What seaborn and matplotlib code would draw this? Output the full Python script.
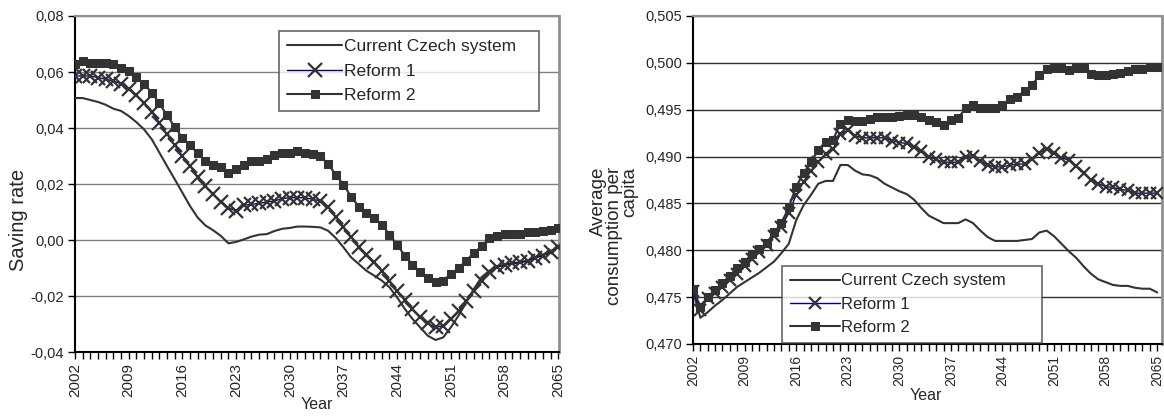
import numpy as np
import pandas as pd
import matplotlib
matplotlib.use("Agg")
import matplotlib.pyplot as plt
import seaborn as sns
from matplotlib.ticker import FixedLocator, MultipleLocator, FuncFormatter

years = list(range(2002, 2066))

# Left panel: saving rate
save_current = [0.0507, 0.0507, 0.0500, 0.0493, 0.0483, 0.0469, 0.0461, 0.0443, 0.0421, 0.0395,
                0.0360, 0.0312, 0.0264, 0.0217, 0.0169, 0.0121, 0.0080, 0.0052, 0.0035, 0.0015,
                -0.0012, -0.0007, 0.0002, 0.0012, 0.0019, 0.0021, 0.0032, 0.0040, 0.0043, 0.0048,
                0.0048, 0.0047, 0.0045, 0.0033, 0.0007, -0.0026, -0.0062, -0.0086, -0.0110, -0.0127,
                -0.0145, -0.0169, -0.0205, -0.0246, -0.0282, -0.0312, -0.0342, -0.0357, -0.0348, -0.0312,
                -0.0270, -0.0223, -0.0175, -0.0133, -0.0110, -0.0095, -0.0088, -0.0083, -0.0080, -0.0074,
                -0.0062, -0.0052, -0.0040, -0.0026]
save_reform1 = [0.0586, 0.0586, 0.0586, 0.0580, 0.0574, 0.0568, 0.0558, 0.0538, 0.0517, 0.0490,
                0.0457, 0.0419, 0.0377, 0.0338, 0.0300, 0.0264, 0.0226, 0.0193, 0.0163, 0.0136,
                0.0115, 0.0104, 0.0124, 0.0127, 0.0131, 0.0136, 0.0139, 0.0148, 0.0151, 0.0151,
                0.0151, 0.0145, 0.0140, 0.0117, 0.0083, 0.0048, 0.0010, -0.0026, -0.0052, -0.0080,
                -0.0110, -0.0145, -0.0181, -0.0214, -0.0246, -0.0274, -0.0298, -0.0312, -0.0306, -0.0282,
                -0.0252, -0.0217, -0.0181, -0.0145, -0.0115, -0.0098, -0.0088, -0.0083, -0.0080, -0.0074,
                -0.0064, -0.0056, -0.0044, -0.0026]
save_reform2 = [0.0627, 0.0639, 0.0633, 0.0633, 0.0633, 0.0627, 0.0615, 0.0604, 0.0582, 0.0558,
                0.0526, 0.0488, 0.0445, 0.0404, 0.0365, 0.0338, 0.0310, 0.0282, 0.0268, 0.0261,
                0.0240, 0.0252, 0.0268, 0.0282, 0.0282, 0.0290, 0.0302, 0.0310, 0.0310, 0.0317,
                0.0312, 0.0308, 0.0300, 0.0271, 0.0233, 0.0198, 0.0155, 0.0119, 0.0096, 0.0079,
                0.0055, 0.0019, -0.0017, -0.0056, -0.0088, -0.0113, -0.0136, -0.0151, -0.0145, -0.0121,
                -0.0101, -0.0074, -0.0046, -0.0023, 0.0007, 0.0015, 0.0021, 0.0021, 0.0021, 0.0027,
                0.0030, 0.0033, 0.0036, 0.0042]

# Right panel: average consumption per capita
cons_current = [0.4756, 0.4728, 0.4734, 0.4741, 0.4747, 0.4754, 0.4761, 0.4766, 0.4771, 0.4776,
                0.4782, 0.4788, 0.4797, 0.4807, 0.4832, 0.4848, 0.4859, 0.4871, 0.4874, 0.4874,
                0.4891, 0.4891, 0.4885, 0.4881, 0.4880, 0.4877, 0.4871, 0.4867, 0.4863, 0.4860,
                0.4854, 0.4845, 0.4837, 0.4833, 0.4829, 0.4829, 0.4829, 0.4833, 0.4829, 0.4821,
                0.4814, 0.4810, 0.4810, 0.4810, 0.4810, 0.4811, 0.4812, 0.4819, 0.4821, 0.4815,
                0.4807, 0.4799, 0.4792, 0.4783, 0.4775, 0.4769, 0.4766, 0.4763, 0.4762, 0.4762,
                0.4760, 0.4759, 0.4759, 0.4755]
cons_reform1 = [0.4757, 0.4736, 0.4749, 0.4754, 0.4761, 0.4768, 0.4775, 0.4783, 0.4791, 0.4798,
                0.4806, 0.4815, 0.4825, 0.4840, 0.4859, 0.4873, 0.4885, 0.4894, 0.4903, 0.4908,
                0.4924, 0.4928, 0.4922, 0.4920, 0.4920, 0.4920, 0.4920, 0.4917, 0.4915, 0.4914,
                0.4910, 0.4906, 0.4900, 0.4897, 0.4894, 0.4894, 0.4894, 0.4900, 0.4901, 0.4895,
                0.4891, 0.4889, 0.4889, 0.4891, 0.4892, 0.4892, 0.4897, 0.4904, 0.4908, 0.4904,
                0.4899, 0.4896, 0.4890, 0.4882, 0.4875, 0.4871, 0.4868, 0.4867, 0.4865, 0.4864,
                0.4861, 0.4861, 0.4861, 0.4861]
cons_reform2 = [0.4759, 0.4740, 0.4750, 0.4758, 0.4765, 0.4773, 0.4781, 0.4788, 0.4796, 0.4801,
                0.4808, 0.4819, 0.4829, 0.4846, 0.4868, 0.4882, 0.4894, 0.4907, 0.4916, 0.4918,
                0.4935, 0.4939, 0.4938, 0.4938, 0.4940, 0.4942, 0.4942, 0.4942, 0.4943, 0.4944,
                0.4944, 0.4942, 0.4939, 0.4937, 0.4934, 0.4939, 0.4941, 0.4952, 0.4955, 0.4952,
                0.4952, 0.4952, 0.4955, 0.4961, 0.4964, 0.4970, 0.4976, 0.4987, 0.4993, 0.4995,
                0.4995, 0.4992, 0.4995, 0.4995, 0.4988, 0.4987, 0.4987, 0.4988, 0.4989, 0.4991,
                0.4993, 0.4993, 0.4996, 0.4996]

series_names = ["Current Czech system", "Reform 1", "Reform 2"]
year_ticks = [2002, 2009, 2016, 2023, 2030, 2037, 2044, 2051, 2058, 2065]

sns.set_style("white")
plt.rcParams["font.family"] = ["Liberation Sans", "DejaVu Sans"]
NARROW = ["Liberation Sans Narrow", "Liberation Sans", "DejaVu Sans"]
ARIAL = ["Liberation Sans", "DejaVu Sans"]

fig = plt.figure(figsize=(11.64, 4.16), dpi=100)
axL = fig.add_axes([75 / 1164, 1 - 352 / 416, 484 / 1164, 336 / 416])
axR = fig.add_axes([693 / 1164, 1 - 344 / 416, 469 / 1164, 328 / 416])

DARK = "#333333"
NAVY = "#000080"


def draw(ax, cur, r1, r2, xsize, sqsize):
    df = pd.DataFrame({"Year": years, series_names[0]: cur,
                       series_names[1]: r1, series_names[2]: r2})
    sns.lineplot(data=df, x="Year", y=series_names[0], ax=ax, color=DARK, lw=1.5,
                 label=series_names[0], zorder=3)
    sns.lineplot(data=df, x="Year", y=series_names[1], ax=ax, color=NAVY, lw=1.0,
                 marker="x", markersize=xsize, markeredgecolor=DARK, markeredgewidth=1.6,
                 label=series_names[1], zorder=4)
    sns.lineplot(data=df, x="Year", y=series_names[2], ax=ax, color=DARK, lw=1.5,
                 marker="s", markersize=sqsize, markeredgecolor=DARK, markerfacecolor=DARK,
                 label=series_names[2], zorder=5)


draw(axL, save_current, save_reform1, save_reform2, 9.5, 6)
draw(axR, cons_current, cons_reform1, cons_reform2, 9, 6)

# ---- axes styling
axL.set_xlim(2002, 2065.1)
axL.set_ylim(-0.04, 0.08)
axL.yaxis.set_major_locator(MultipleLocator(0.02))
axL.yaxis.set_major_formatter(FuncFormatter(lambda v, p: f"{v:.2f}".replace(".", ",").replace("-0,00", "0,00")))
axL.grid(axis="y", color="#808080", lw=1)
axL.set_axisbelow(True)

axR.set_xlim(2002, 2065.65)
axR.set_ylim(0.470, 0.505)
axR.yaxis.set_major_locator(MultipleLocator(0.005))
axR.yaxis.set_major_formatter(FuncFormatter(lambda v, p: f"{v:.3f}".replace(".", ",")))
axR.grid(axis="y", color="#303030", lw=1)
axR.set_axisbelow(True)

for ax in (axL, axR):
    ax.xaxis.set_major_locator(FixedLocator(year_ticks))
    ax.xaxis.set_minor_locator(MultipleLocator(1))
    ax.tick_params(axis="x", which="both", direction="out", length=5, width=1, color="black",
                   bottom=True, pad=3)
    ax.tick_params(axis="y", which="major", direction="out", length=5, width=1, color="black",
                   left=True, pad=3)
    ax.spines["left"].set_color("black")
    ax.spines["bottom"].set_color("black")
    ax.spines["left"].set_linewidth(1.5)
    ax.spines["bottom"].set_linewidth(1.5)
    ax.spines["top"].set_color("#909090")
    ax.spines["right"].set_color("#909090")
    ax.spines["right"].set_linewidth(2)
    ax.spines["top"].set_linewidth(1.5)

for lab in axL.get_xticklabels():
    lab.set_rotation(90)
    lab.set_family(NARROW)
    lab.set_fontsize(11)
for lab in axL.get_yticklabels():
    lab.set_family(NARROW)
    lab.set_fontsize(10.5)
for lab in axR.get_xticklabels():
    lab.set_rotation(90)
    lab.set_family(ARIAL)
    lab.set_fontsize(10)
for lab in axR.get_yticklabels():
    lab.set_family(ARIAL)
    lab.set_fontsize(10.5)

axL.set_xlabel("Year", family=NARROW, fontsize=11.5)
axL.xaxis.set_label_coords(0.5, -0.135)
axL.set_ylabel("Saving rate", family=NARROW, fontsize=14.5)
axL.yaxis.set_label_coords(-0.097, 0.393)

axR.set_xlabel("Year", family=ARIAL, fontsize=11.5)
axR.xaxis.set_label_coords(0.497, -0.135)
axR.set_ylabel("Average\nconsumption per\ncapita", family=ARIAL, fontsize=13.5,
               multialignment="right", linespacing=0.88)
axR.yaxis.set_label_coords(-0.117, 0.33)

legL = axL.legend(loc="upper left", bbox_to_anchor=(0.4215, 0.955, 0.537, 0.0), mode="expand",
                  borderaxespad=0, frameon=True, fancybox=False, edgecolor="#404040",
                  handlelength=3.2, handletextpad=0.1, labelspacing=0.55, borderpad=0.45,
                  prop={"family": NARROW, "size": 12.5})
legL.get_frame().set_linewidth(1.2)

legR = axR.legend(loc="upper left", bbox_to_anchor=(0.19, 0.238, 0.554, 0.0), mode="expand",
                  borderaxespad=0, frameon=True, fancybox=False, edgecolor="#404040",
                  handlelength=3.0, handletextpad=0.1, labelspacing=0.5, borderpad=0.45,
                  prop={"family": ARIAL, "size": 12})
legR.get_frame().set_linewidth(1.2)
legR.set_zorder(10)

fig.savefig("out.png", dpi=100, facecolor="white")
